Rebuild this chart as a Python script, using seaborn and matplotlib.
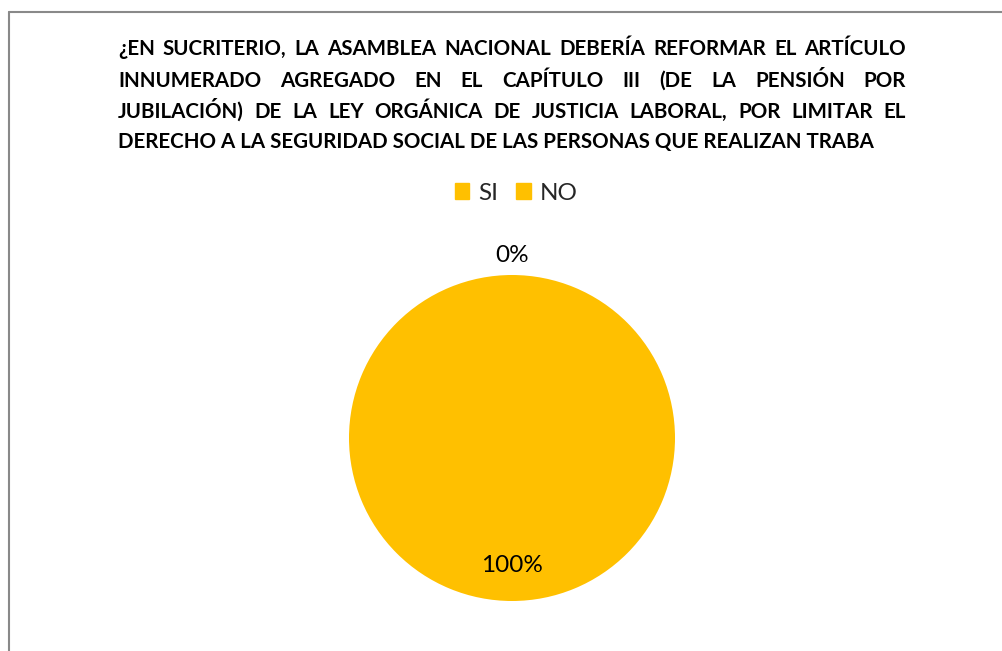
import matplotlib
matplotlib.use("Agg")
import matplotlib.pyplot as plt
from matplotlib.lines import Line2D
import numpy as np
import seaborn as sns

# Data
categories = ["SI", "NO"]
values = [100, 0]
title_lines = [
    "¿EN SUCRITERIO, LA ASAMBLEA NACIONAL DEBERÍA REFORMAR EL ARTÍCULO",
    "INNUMERADO AGREGADO EN EL CAPÍTULO III (DE LA PENSIÓN POR",
    "JUBILACIÓN) DE LA LEY ORGÁNICA DE JUSTICIA LABORAL, POR LIMITAR EL",
    "DERECHO A LA SEGURIDAD SOCIAL DE LAS PERSONAS QUE REALIZAN TRABA",
]

sns.set_theme(style="white")
plt.rcParams["font.family"] = ["Lato", "DejaVu Sans"]

W, H = 1003, 651
fig = plt.figure(figsize=(W / 100, H / 100), dpi=100)
fig.patch.set_facecolor("white")

colors = ["#FFC000", "#FFC000"]

# Pie axes: center (512, 438), radius 163 px
cx, cy, r = 512, 438, 163
ax = fig.add_axes([(cx - r) / W, (H - cy - r) / H, 2 * r / W, 2 * r / H])
wedges, _ = ax.pie(values, colors=colors, startangle=90, counterclock=False,
                   radius=1, wedgeprops=dict(linewidth=0))
ax.set_xlim(-1, 1)
ax.set_ylim(-1, 1)
ax.set_aspect("equal")
ax.axis("off")

total = sum(values)
for w, v in zip(wedges, values):
    ang = np.deg2rad((w.theta1 + w.theta2) / 2)
    d = 0.785 if v > 0 else 1.12
    ax.text(d * np.cos(ang), d * np.sin(ang), f"{v / total * 100:.0f}%",
            ha="center", va="center", fontsize=17.5, color="black")

# Legend
handles = [plt.Rectangle((0, 0), 1, 1, color=c) for c in colors]
fig.legend(handles, categories, loc="center", bbox_to_anchor=(516 / W, 1 - 193 / H),
           ncol=2, frameon=False, fontsize=17.5, handlelength=0.6, handleheight=0.6,
           handletextpad=0.35, columnspacing=0.75)

# Title, justified
fig.canvas.draw()
renderer = fig.canvas.get_renderer()
left, right = 118, 906
baselines = [55, 87, 118, 148]

def text_width(s, size):
    t = fig.text(0, 0, s, fontsize=size, fontweight="bold")
    bb = t.get_window_extent(renderer)
    t.remove()
    return bb.width

size = 14 * 760 / text_width(title_lines[3], 14)

for i, line in enumerate(title_lines):
    y = 1 - baselines[i] / H
    if i == len(title_lines) - 1:
        fig.text(left / W, y, line, fontsize=size, fontweight="bold",
                 color="black", va="baseline", ha="left")
        continue
    words = line.split(" ")
    widths = [text_width(wd, size) for wd in words]
    gap = (right - left - sum(widths)) / (len(words) - 1)
    x = left
    for wd, wdt in zip(words, widths):
        fig.text(x / W, y, wd, fontsize=size, fontweight="bold",
                 color="black", va="baseline", ha="left")
        x += wdt + gap

# Chart border (left and top visible)
fig.add_artist(Line2D([9 / W, 9 / W], [0, 1 - 12 / H], color="#898989", lw=1.5,
                      transform=fig.transFigure))
fig.add_artist(Line2D([9 / W, 1], [1 - 12 / H, 1 - 12 / H], color="#898989", lw=1.5,
                      transform=fig.transFigure))

fig.savefig("out.png", dpi=100, facecolor="white")
